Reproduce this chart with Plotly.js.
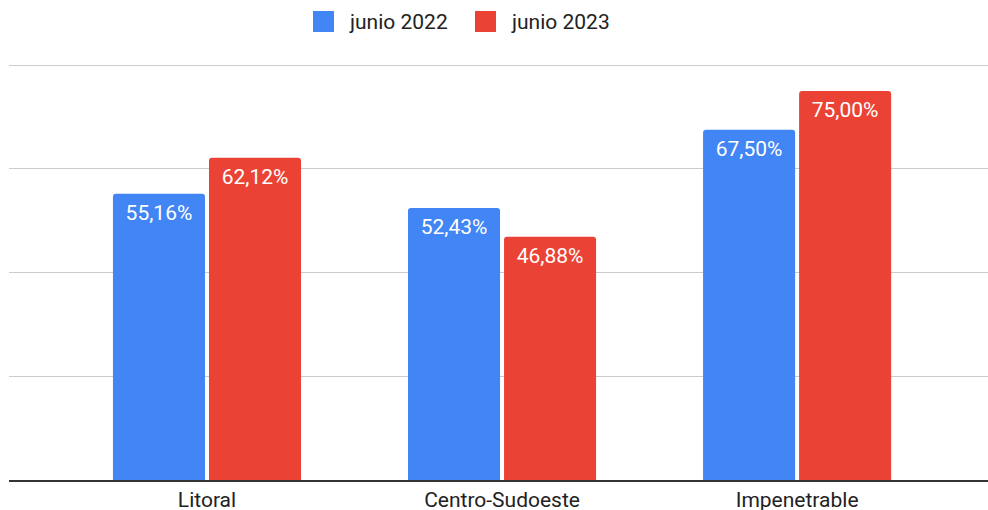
<!DOCTYPE html>
<html>
<head>
<meta charset="utf-8">
<script src="https://cdn.plot.ly/plotly-3.0.1.min.js"></script>
<style>html,body{margin:0;padding:0;background:#fff;}#chart{width:988px;height:510px;}</style>
</head>
<body>
<div id="chart"></div>
<script>
const categories = ["Litoral", "Centro-Sudoeste", "Impenetrable"];
const seriesNames = ["junio 2022", "junio 2023"];
const values2022 = [55.16, 52.43, 67.50];
const values2023 = [62.12, 46.88, 75.00];
const colors = ["#4285F4", "#EA4335"];

const FONT = "Roboto, Arial, sans-serif";
const W = 988, H = 510;
const M = {l: 9, r: 0, t: 60, b: 30};
const plotW = W - M.l - M.r, plotH = H - M.t - M.b;
const pxPerUnit = 415 / 80;

function px2x(px) { return (px - M.l) / plotW; }
function py2y(py) { return (H - M.b - py) / plotH; }

function makeTrace(name, vals, color) {
  return {
    type: "bar",
    name: name,
    x: categories,
    y: vals,
    marker: {color: color, cornerradius: 3},
    texttemplate: "%{y:.2f}%",
    textposition: "inside",
    insidetextanchor: "end",
    textangle: 0,
    insidetextfont: {family: FONT, size: 21, color: "#ffffff"},
    hoverinfo: "skip",
    showlegend: false
  };
}

const data = [
  makeTrace(seriesNames[0], values2022, colors[0]),
  makeTrace(seriesNames[1], values2023, colors[1])
];

// custom legend (square swatches + text)
const legendSwatchLeft = [313, 475];
const shapes = [];
const annotations = [];
seriesNames.forEach(function(name, i) {
  const x0 = legendSwatchLeft[i];
  shapes.push({
    type: "rect", xref: "paper", yref: "paper",
    x0: px2x(x0), x1: px2x(x0 + 21), y0: py2y(32), y1: py2y(11),
    fillcolor: colors[i], line: {width: 0}
  });
  annotations.push({
    xref: "paper", yref: "paper",
    x: px2x(x0 + 34), y: py2y(22), xanchor: "left", yanchor: "middle",
    text: name, showarrow: false,
    font: {family: FONT, size: 21, color: "#222222"}
  });
});

const layout = {
  width: W,
  height: H,
  margin: {l: M.l, r: M.r, t: M.t, b: M.b, pad: 0},
  paper_bgcolor: "#ffffff",
  plot_bgcolor: "#ffffff",
  separators: ",.",
  font: {family: FONT, size: 21, color: "#222222"},
  barmode: "group",
  bargap: 0.349,
  bargroupgap: 0.0417,
  showlegend: false,
  shapes: shapes,
  annotations: annotations,
  xaxis: {
    type: "category",
    range: [-0.671, 2.647],
    showgrid: false,
    zeroline: false,
    showline: true,
    linecolor: "#333333",
    linewidth: 1.5,
    ticks: "",
    tickfont: {family: FONT, size: 21, color: "#222222"},
    fixedrange: true
  },
  yaxis: {
    range: [0, plotH / pxPerUnit],
    dtick: 20,
    tick0: 0,
    showgrid: true,
    gridcolor: "#cccccc",
    gridwidth: 1,
    zeroline: false,
    showticklabels: false,
    ticks: "",
    fixedrange: true
  }
};

Plotly.newPlot("chart", data, layout, {displayModeBar: false, staticPlot: true}).then(function(gd){
  gd.querySelectorAll(".barlayer .bartext text, .barlayer text.bartext").forEach(function(t){
    const tr = t.getAttribute("transform") || "";
    t.setAttribute("transform", "translate(0,4) " + tr);
  });
});
</script>
</body>
</html>
